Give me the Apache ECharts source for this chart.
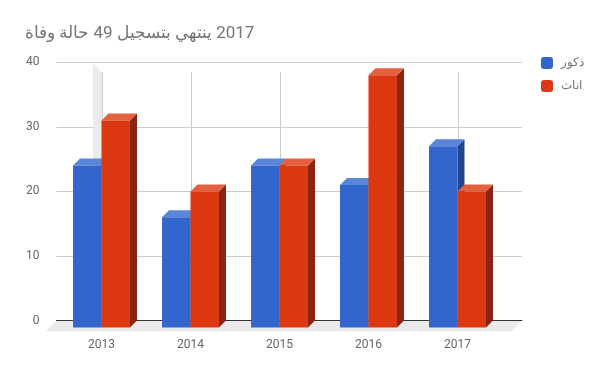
<!DOCTYPE html>
<html><head><meta charset="utf-8">
<script src="https://cdn.jsdelivr.net/npm/echarts@6/dist/echarts.min.js"></script>
<style>html,body{margin:0;padding:0;background:#fff}#c{width:600px;height:371px;direction:rtl}</style>
</head><body><div id="c"></div>
<script>
const titleText = '2017 ينتهي بتسجيل 49 حالة وفاة';
const categories = ['2013', '2014', '2015', '2016', '2017'];
const seriesNames = ['ذكور', 'اناث'];
const males = [24, 16, 24, 21, 27];
const females = [31, 20, 24, 38, 20];
const yMin = 0, yMax = 40, yStep = 10;

const blue = { front: '#3366cc', top: '#5b86d7', side: '#21468e' };
const red = { front: '#dc3912', top: '#e3613f', side: '#8b2410' };
const DEPTH = 7, FLOOR = 11;

function bar3d(side, col) {
  return function (params, api) {
    const i = api.value(0), v = api.value(1);
    const top = api.coord([i, v]);
    const base = api.coord([i, 0]);
    const w = api.size([1, 0])[0] * 0.32;
    const xL = side === 0 ? top[0] - w : top[0];
    const xR = xL + w;
    const yT = top[1], yB = base[1] + DEPTH;
    return {
      type: 'group', children: [
        { type: 'polygon', shape: { points: [[xR, yT], [xR + DEPTH, yT - DEPTH], [xR + DEPTH, base[1]], [xR, yB]] }, style: { fill: col.side } },
        { type: 'polygon', shape: { points: [[xL, yT], [xR, yT], [xR + DEPTH, yT - DEPTH], [xL + DEPTH, yT - DEPTH]] }, style: { fill: col.top } },
        { type: 'rect', shape: { x: xL, y: yT, width: w, height: yB - yT }, style: { fill: col.front } }
      ]
    };
  };
}

const chart = echarts.init(document.getElementById('c'), null, { renderer: 'canvas' });
chart.setOption({
  animation: false,
  backgroundColor: '#ffffff',
  title: {
    text: titleText, left: 20, top: 20,
    textStyle: { fontFamily: 'Roboto', fontSize: 17, fontWeight: 'normal', color: '#757575' }
  },
  legend: {
    orient: 'vertical', left: 536, top: 52, itemWidth: 12, itemHeight: 12, itemGap: 11,
    icon: 'roundRect', data: seriesNames,
    textStyle: { fontFamily: 'Roboto', fontSize: 12, color: '#757575', padding: [0, 0, 0, 3] }
  },
  grid: [
    { left: 56.5, right: 78, top: 62.3, bottom: 50.5 },
    { left: 57, width: 445, top: 62.3, bottom: 50.5 }
  ],
  xAxis: [
    { gridIndex: 0, type: 'value', min: 0, max: 1, z: 1.5,
      axisLine: { show: true, onZero: false, lineStyle: { color: '#333333', width: 1 } },
      axisTick: { show: false }, axisLabel: { show: false }, splitLine: { show: false } },
    { gridIndex: 1, type: 'category', data: categories,
      axisLine: { show: false }, axisTick: { show: false }, splitLine: { show: false },
      axisLabel: { margin: 18, fontFamily: 'Roboto', fontSize: 12, color: '#666666' } }
  ],
  yAxis: [
    { gridIndex: 0, type: 'value', min: yMin, max: yMax, interval: yStep,
      axisLine: { show: false }, axisTick: { show: false },
      axisLabel: { margin: 17, fontFamily: 'Roboto', fontSize: 12, color: '#666666' },
      splitLine: { lineStyle: { color: '#cccccc' } } },
    { gridIndex: 1, type: 'value', min: yMin, max: yMax, interval: yStep, show: false }
  ],
  series: [
    { type: 'custom', name: 'floor', xAxisIndex: 0, yAxisIndex: 0, z: 1, silent: true,
      data: [[0, 0]],
      renderItem: function (params, api) {
        const cs = params.coordSys;
        const y0 = cs.y + cs.height;
        return { type: 'polygon', shape: { points: [[cs.x, y0], [cs.x + cs.width, y0], [cs.x + cs.width - FLOOR, y0 + FLOOR], [cs.x - FLOOR, y0 + FLOOR]] }, style: { fill: '#ebebeb' } };
      } },
    { type: 'custom', name: 'vgrid', xAxisIndex: 1, yAxisIndex: 1, z: 1, silent: true,
      data: categories.map((c, i) => [i, yMax]),
      renderItem: function (params, api) {
        const t = api.coord([api.value(0), yMax]);
        const b = api.coord([api.value(0), 0]);
        const x = Math.round(t[0]) + 0.5;
        const kids = [];
        if (params.dataIndex === 0) {
          kids.push({ type: 'polygon', shape: { points: [[x - 9.5, t[1] + 1], [x - 0.5, t[1] + 10], [x - 0.5, b[1]], [x - 9.5, b[1]]] }, style: { fill: '#ebebeb' } });
        }
        kids.push({ type: 'line', shape: { x1: x, y1: t[1] + 10, x2: x, y2: b[1] }, style: { stroke: '#cccccc', lineWidth: 1 } });
        return { type: 'group', children: kids };
      } },
    { type: 'custom', name: seriesNames[0], xAxisIndex: 1, yAxisIndex: 1, z: 2,
      itemStyle: { color: blue.front },
      data: males.map((v, i) => [i, v]), renderItem: bar3d(0, blue) },
    { type: 'custom', name: seriesNames[1], xAxisIndex: 1, yAxisIndex: 1, z: 2,
      itemStyle: { color: red.front },
      data: females.map((v, i) => [i, v]), renderItem: bar3d(1, red) }
  ]
});
</script></body></html>
